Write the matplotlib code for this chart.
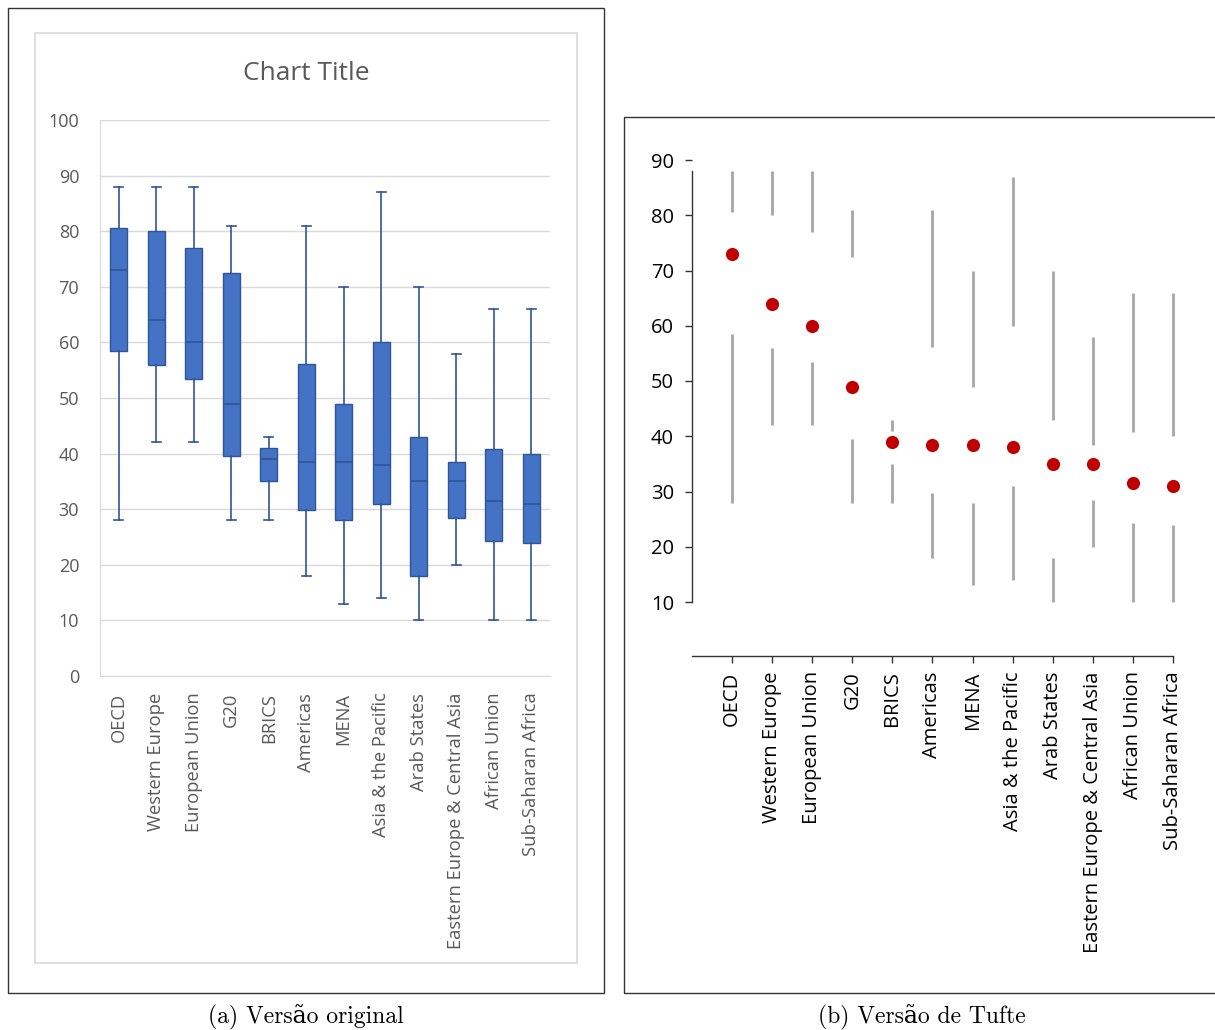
import matplotlib
matplotlib.use("Agg")
import matplotlib.pyplot as plt
from matplotlib.patches import Rectangle

categories = ["OECD", "Western Europe", "European Union", "G20", "BRICS", "Americas",
              "MENA", "Asia & the Pacific", "Arab States", "Eastern Europe & Central Asia",
              "African Union", "Sub-Saharan Africa"]
mins    = [28, 42, 42, 28, 28, 18, 13, 14, 10, 20, 10, 10]
q1s     = [58.5, 56, 53.5, 39.5, 35, 29.8, 28, 31, 18, 28.5, 24.3, 24]
medians = [73, 64, 60, 49, 39, 38.5, 38.5, 38, 35, 35, 31.5, 31]
q3s     = [80.5, 80, 77, 72.5, 41, 56.2, 49, 60, 43, 38.5, 40.8, 40]
maxs    = [88, 88, 88, 81, 43, 81, 70, 87, 70, 58, 66, 66]
yticks_a = list(range(0, 101, 10))
yticks_b = list(range(10, 91, 10))

W, H = 1215, 1030
fig = plt.figure(figsize=(W / 100, H / 100), dpi=100)
fig.patch.set_facecolor("white")

def fx(px):
    return px / W

def fy(py):
    return 1 - py / H

# panel frames
fig.add_artist(Rectangle((fx(8), fy(993)), fx(604) - fx(8), fy(8) - fy(993),
                         transform=fig.transFigure, fill=False, edgecolor="#333333", lw=1.0))
fig.add_artist(Rectangle((fx(35), fy(963)), fx(577) - fx(35), fy(33) - fy(963),
                         transform=fig.transFigure, fill=False, edgecolor="#d9d9d9", lw=1.2))
fig.add_artist(Rectangle((fx(624), fy(993)), fx(1260) - fx(624), fy(117) - fy(993),
                         transform=fig.transFigure, fill=False, edgecolor="#333333", lw=1.0,
                         clip_on=False))

sans = ["Open Sans", "DejaVu Sans"]
gray_txt = "#595959"

# ---------------- (a) original boxplot ----------------
axa = fig.add_axes([fx(100), fy(676), fx(550) - fx(100), fy(120) - fy(676)])
stats = []
for i, c in enumerate(categories):
    stats.append(dict(label=c, whislo=mins[i], q1=q1s[i], med=medians[i],
                      q3=q3s[i], whishi=maxs[i]))
axa.bxp(stats, positions=list(range(len(categories))), widths=0.46, showfliers=False,
        patch_artist=True,
        boxprops=dict(facecolor="#4472c4", edgecolor="#2f5597", linewidth=1.0),
        medianprops=dict(color="#2f5597", linewidth=1.2),
        whiskerprops=dict(color="#2f5597", linewidth=1.2),
        capprops=dict(color="#2f5597", linewidth=1.2), capwidths=0.24, zorder=3)
axa.set_xlim(-0.5, len(categories) - 0.5)
axa.set_ylim(0, 100)
axa.set_yticks(yticks_a)
axa.grid(axis="y", color="#d9d9d9", linewidth=1.0, zorder=0)
axa.set_axisbelow(True)
for s in ["top", "right"]:
    axa.spines[s].set_visible(False)
axa.spines["left"].set_color("#d9d9d9")
axa.spines["bottom"].set_color("#d9d9d9")
axa.tick_params(axis="both", length=0, colors=gray_txt, labelsize=13)
axa.tick_params(axis="y", pad=15)
axa.tick_params(axis="x", pad=12)
axa.set_xticks(range(len(categories)))
axa.set_xticklabels(categories, rotation=90, fontfamily=sans, color=gray_txt, fontsize=13.2)
for lab in axa.get_yticklabels():
    lab.set_fontfamily(sans)
fig.text(fx(306), fy(73), "Chart Title", ha="center", va="center",
         fontfamily=sans, color=gray_txt, fontsize=19)

# ---------------- (b) Tufte version ----------------
x0px, x11px = 732, 1173
ux = (x11px - x0px) / 11
ylo_px, yhi_px = 602, 160  # y=10, y=90
uy = (ylo_px - yhi_px) / 80
xl, xr = -1.0, 11.3
yb, yt = 10 - (656 - ylo_px) / uy, 92
left_px = x0px + xl * ux
right_px = x0px + xr * ux
bot_px = ylo_px - (yb - 10) * uy
top_px = ylo_px - (yt - 10) * uy
axb = fig.add_axes([fx(left_px), fy(bot_px), fx(right_px) - fx(left_px), fy(top_px) - fy(bot_px)])
pos = list(range(len(categories)))
axb.vlines(pos, mins, q1s, color="#a6a6a6", linewidth=2.0, zorder=2)
axb.vlines(pos, q3s, maxs, color="#a6a6a6", linewidth=2.0, zorder=2)
axb.scatter(pos, medians, s=90, color="#c00000", zorder=3, linewidths=0)
axb.set_xlim(xl, xr)
axb.set_ylim(yb, yt)
axb.set_yticks(yticks_b)
axb.set_xticks(pos)
axb.set_xticklabels(categories, rotation=90, fontfamily=sans, color="black", fontsize=14.8)
for lab in axb.get_yticklabels():
    lab.set_fontfamily(sans)
axb.spines["top"].set_visible(False)
axb.spines["right"].set_visible(False)
axb.spines["left"].set_bounds(min(mins), max(maxs))
axb.spines["bottom"].set_bounds(xl, len(categories) - 1)
for s in ["left", "bottom"]:
    axb.spines[s].set_color("#333333")
    axb.spines[s].set_linewidth(1.0)
axb.tick_params(axis="both", direction="out", length=5, width=1.0, color="#333333",
                labelsize=14.5, labelcolor="black")
axb.tick_params(axis="y", pad=8)
axb.tick_params(axis="x", pad=6)
axb.patch.set_alpha(0)

# captions
cap_font = ["cmr10", "DejaVu Serif"]
fig.text(fx(306), fy(1017), "(a) Versão original", ha="center", va="center",
         fontfamily=cap_font, fontsize=17)
fig.text(fx(922), fy(1017), "(b) Versão de Tufte", ha="center", va="center",
         fontfamily=cap_font, fontsize=17)

fig.savefig("out.png", dpi=100)
